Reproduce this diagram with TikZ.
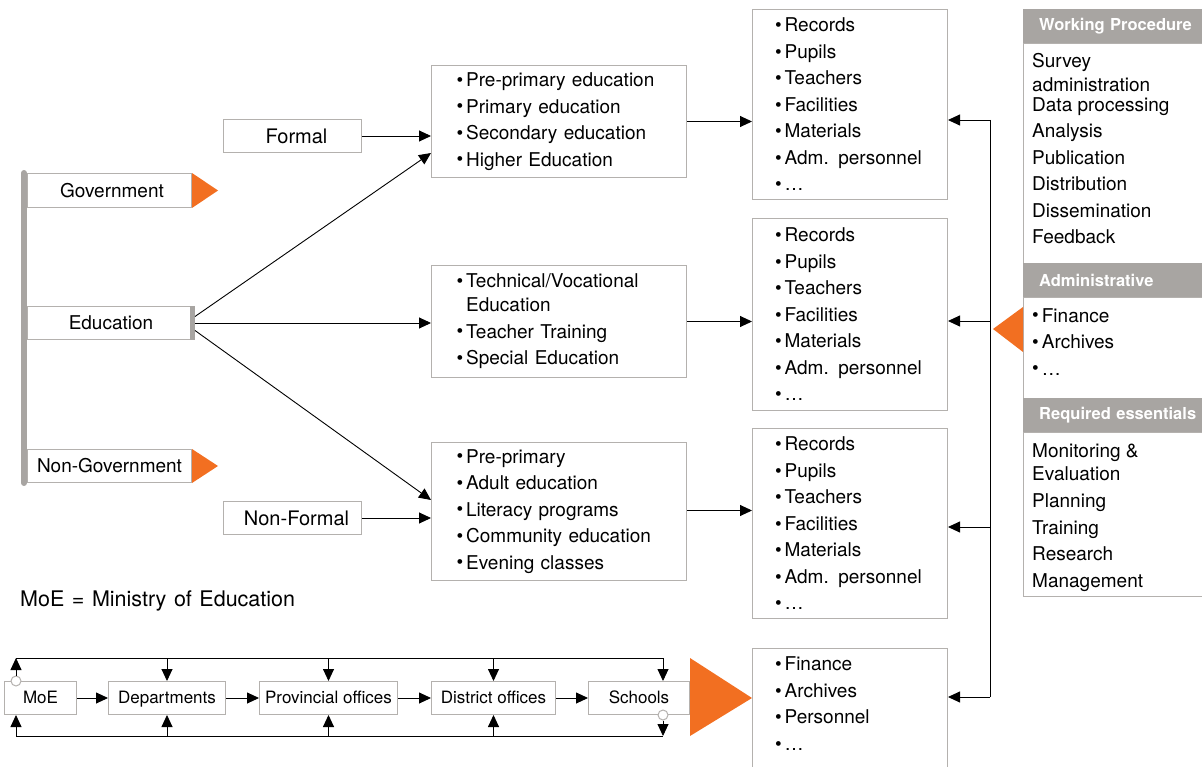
\documentclass[tikz,border=0pt]{standalone}
\usepackage{fontspec}
\setmainfont{TeX Gyre Heros}
\usetikzlibrary{arrows.meta,positioning}
\definecolor{edgegrey}{HTML}{B4B1AE}
\definecolor{bargrey}{HTML}{A8A5A2}
\definecolor{flagorange}{HTML}{F26F21}
\newcommand{\bul}{\raisebox{0.02em}{\scalebox{1.0}{\textbullet}}\hspace{3pt}}
\tikzset{
  lbl/.style={draw=edgegrey, line width=1pt, inner sep=0pt, anchor=north west, font=\fontsize{19}{22}\selectfont},
  listbox/.style={draw=edgegrey, line width=1pt, anchor=north west, align=left, inner ysep=0pt, font=\fontsize{19}{26.5}\selectfont},
  chain/.style={draw=edgegrey, line width=1pt, minimum height=33pt, inner sep=0pt, text height=12.5pt, text depth=1.5pt, font=\fontsize{17}{20}\selectfont},
  head/.style={fill=bargrey, text=white, anchor=north west, inner xsep=16pt, inner ysep=0pt, minimum height=34pt, text width=160pt, align=left, font=\bfseries\fontsize{16.5}{18}\selectfont},
  panel/.style={draw=edgegrey, line width=1pt, anchor=north west, minimum width=190pt},
  paneltext/.style={anchor=north west, inner sep=0pt, align=left, font=\fontsize{19}{26.5}\selectfont},
  link/.style={-{Triangle[length=12pt,width=11pt]}, line width=0.9pt},
  tap/.style={circle, draw=edgegrey, fill=white, line width=1pt, minimum size=10pt, inner sep=0pt}
}
\begin{document}
\begin{tikzpicture}[x=1pt,y=-1pt]
\useasboundingbox (0,0) rectangle (1202,767);

% sectors on the left
\node[lbl, minimum width=164pt, minimum height=34pt] (gov) at (27,173) {\hspace{5pt}Government};
\node[lbl, minimum width=167pt, minimum height=33pt] (edu) at (27,306) {Education};
\node[lbl, minimum width=164pt, minimum height=33pt] (ngov) at (27,449) {Non-Government};
\draw[bargrey, line width=6pt, line cap=round] ([xshift=-3pt]gov.north west) -- ([xshift=-3pt]ngov.south west);
\draw[bargrey, line width=5pt] ([xshift=-2.5pt]edu.north east) -- ([xshift=-2.5pt]edu.south east);
\fill[flagorange] (gov.north east) -- (gov.south east) -- ([xshift=26pt]gov.east) -- cycle;
\fill[flagorange] (ngov.north east) -- (ngov.south east) -- ([xshift=26pt]ngov.east) -- cycle;

\node[lbl, minimum width=138pt, minimum height=33pt, font=\fontsize{20}{22}\selectfont] (formal) at (223,119) {\hspace{8pt}Formal};
\node[lbl, minimum width=138pt, minimum height=33pt, font=\fontsize{20}{22}\selectfont] (nonformal) at (223,501) {\hspace{8pt}Non-Formal};

% education types
\node[listbox, inner xsep=25pt, text width=205pt, minimum height=112pt] (form) at (431,65)
  {\bul Pre-primary education\\ \bul Primary education\\ \bul Secondary education\\ \bul Higher Education};
\node[listbox, inner xsep=25pt, text width=205pt, minimum height=112pt] (tech) at (431,265)
  {\bul Technical/Vocational\\[-2.5pt] \hphantom{\bul}Education\\ \bul Teacher Training\\ \bul Special Education};
\node[listbox, inner xsep=25pt, text width=205pt, minimum height=138pt] (nf) at (431,442)
  {\bul Pre-primary\\ \bul Adult education\\ \bul Literacy programs\\ \bul Community education\\ \bul Evening classes};

\draw[link] (formal.east) -- (formal.east -| form.west);
\draw[link] (nonformal.east) -- (nonformal.east -| nf.west);
\draw[link] ([yshift=6.5pt]edu.east) -- ([yshift=25pt]form.south west);
\draw[link] (edu.east) -- (edu.east -| tech.west);
\draw[link] ([yshift=-7.5pt]edu.east) -- ([yshift=-58pt]nf.north west);

% data collected
\node[listbox, inner xsep=22.5pt, text width=150pt, minimum height=190pt] (rec1) at (752,9)
  {\bul Records\\ \bul Pupils\\ \bul Teachers\\ \bul Facilities\\ \bul Materials\\ \bul Adm. personnel\\ \bul \ldots};
\node[listbox, inner xsep=22.5pt, text width=150pt, minimum height=192pt] (rec2) at (752,218)
  {\bul Records\\ \bul Pupils\\ \bul Teachers\\ \bul Facilities\\ \bul Materials\\ \bul Adm. personnel\\ \bul \ldots};
\node[listbox, inner xsep=22.5pt, text width=150pt, minimum height=190pt] (rec3) at (752,428)
  {\bul Records\\ \bul Pupils\\ \bul Teachers\\ \bul Facilities\\ \bul Materials\\ \bul Adm. personnel\\ \bul \ldots};
\node[listbox, inner xsep=22.5pt, text width=150pt, minimum height=190pt] (rec4) at (752,648)
  {\bul Finance\\ \bul Archives\\ \bul Personnel\\ \bul \ldots\\ \mbox{}\\ \mbox{}\\ \mbox{}};

\draw[link] (form.east) -- (form.east -| rec1.west);
\draw[link] (tech.east) -- (tech.east -| rec2.west);
\draw[link] ([yshift=1pt]nf.east) -- ([yshift=1pt]nf.east -| rec3.west);

\coordinate (sp1) at (990,120);
\coordinate (sp2) at (990,321);
\coordinate (sp3) at (990,527);
\coordinate (sp4) at (990,697);
\draw[line width=0.9pt] (sp1) -- (sp4);
\draw[link] (sp1) -- (sp1 -| rec1.east);
\draw[link] (sp2) -- (sp2 -| rec2.east);
\draw[link] (sp3) -- (sp3 -| rec3.east);
\draw[link] (sp4) -- (sp4 -| rec4.east);

% panel on the right
\node[head] (wphead) at (1023,9) {Working Procedure};
\node[panel, minimum height=220pt] (wpbody) at (1023,43) {};
\node[paneltext] (wptext) at (1032,53)
  {Survey\\[-2.5pt] administration\\[-6.5pt] Data processing\\ Analysis\\ Publication\\ Distribution\\ Dissemination\\ Feedback};
\node[head] (admhead) at (1023,263) {Administrative};
\node[panel, minimum height=101pt] (admbody) at (1023,297) {};
\node[paneltext] (admtext) at (1032,308)
  {\bul Finance\\ \bul Archives\\ \bul \ldots};
\node[head] (reqhead) at (1023,398) {Required essentials};
\node[panel, minimum height=164pt] (reqbody) at (1023,432) {};
\node[paneltext] (reqtext) at (1032,443)
  {Monitoring \&\\[-3.5pt] Evaluation\\[1pt] Planning\\ Training\\ Research\\ Management};
\fill[flagorange] ([yshift=-10pt]admbody.north west) -- ([yshift=-55pt]admbody.north west) -- (993,329) -- cycle;

\node[anchor=west, inner sep=0pt, font=\fontsize{21.5}{22}\selectfont] (moekey) at (20,601) {\spaceskip=0.35em MoE = Ministry of Education};

% chain of offices
\node[chain, minimum width=72pt, anchor=north west] (moe) at (4,681) {MoE};
\node[chain, minimum width=117pt, right=31pt of moe] (dept) {Departments};
\node[chain, minimum width=138pt, right=33pt of dept] (prov) {Provincial offices};
\node[chain, minimum width=124pt, right=33pt of prov] (dist) {District offices};
\node[chain, minimum width=101pt, right=32pt of dist] (schools) {Schools};
\draw[link] (moe) -- (dept);
\draw[link] (dept) -- (prov);
\draw[link] (prov) -- (dist);
\draw[link] (dist) -- (schools);

\coordinate (tl) at (16,658);
\coordinate (tr) at (663,658);
\coordinate (bl) at (16,736);
\coordinate (br) at (663,736);
\node[tap] (moetap) at (tl |- moe.north) {};
\node[tap] (schooltap) at (br |- schools.south) {};
\draw[line width=0.9pt] (tl) -- (tr);
\draw[line width=0.9pt] (bl) -- (br);
\draw[link] (moetap) -- (tl);
\draw[link] (dept.north |- tl) -- (dept.north);
\draw[link] (prov.north |- tl) -- (prov.north);
\draw[link] (dist.north |- tl) -- (dist.north);
\draw[link] (tr) -- (tr |- schools.north);
\draw[link] (schooltap) -- (br);
\draw[link] (bl) -- (bl |- moe.south);
\draw[link] (dept.south |- bl) -- (dept.south);
\draw[link] (prov.south |- bl) -- (prov.south);
\draw[link] (dist.south |- bl) -- (dist.south);
\fill[flagorange] (schools.north east |- tr) -- (schools.south east |- br) -- (rec4.west |- schools.east) -- cycle;
\end{tikzpicture}
\end{document}
